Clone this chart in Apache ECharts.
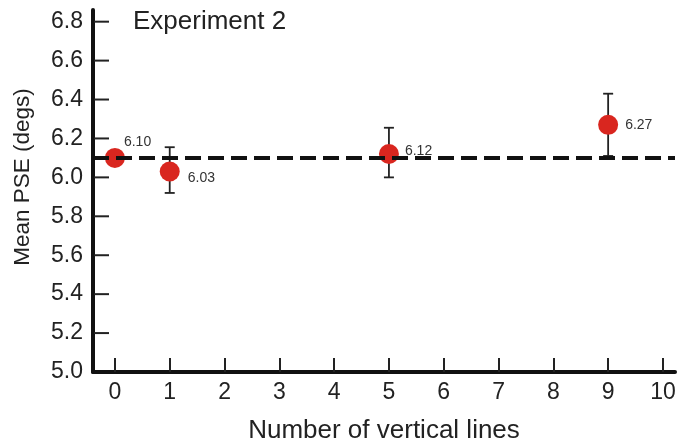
<!DOCTYPE html>
<html>
<head>
<meta charset="utf-8">
<script src="https://cdn.jsdelivr.net/npm/echarts@6/dist/echarts.min.js"></script>
<style>html,body{margin:0;padding:0;background:#fff;}#c{width:681px;height:445px;}</style>
</head>
<body>
<div id="c"></div>
<script>
// ---- data ----
const xValues = [0, 1, 5, 9];
const meanPSE = [6.10, 6.03, 6.12, 6.27];
const errLow = [null, 5.92, 6.00, 6.11];
const errHigh = [null, 6.155, 6.255, 6.43];
const referencePSE = 6.10;
const xTickValues = [0, 1, 2, 3, 4, 5, 6, 7, 8, 9, 10];
const yTickValues = [5.2, 5.4, 5.6, 5.8, 6.0, 6.2, 6.4, 6.6, 6.8];
const yLabelValues = [5.0, 5.2, 5.4, 5.6, 5.8, 6.0, 6.2, 6.4, 6.6, 6.8];
const titleText = 'Experiment 2';
const xName = 'Number of vertical lines';
const yName = 'Mean PSE (degs)';

// ---- layout ----
const X_MIN = -0.4, X_MAX = 10.22, Y_MIN = 5.0, Y_MAX = 6.86;
const labelOffsets = [[-8, -16], [1, 7], [-1, -3], [0, 0]];

const FONT = '"Liberation Sans", Arial, Helvetica, sans-serif';
const chart = echarts.init(document.getElementById('c'), null, {renderer: 'canvas'});

const pointData = xValues.map((x, i) => ({
  value: [x, meanPSE[i]],
  label: {offset: labelOffsets[i]}
}));
const errData = xValues.map((x, i) => [x, errLow[i], errHigh[i]]).filter(d => d[1] != null);
const yTickData = yTickValues.map(v => [X_MIN, v]);

chart.setOption({
  animation: false,
  backgroundColor: '#ffffff',
  title: {
    text: titleText, left: 128, top: 4,
    textStyle: {fontFamily: FONT, fontSize: 26, fontWeight: 'normal', color: '#222'}
  },
  grid: {left: 93, right: 6, top: 10, bottom: 73, containLabel: false, outerBoundsMode: 'none'},
  xAxis: {
    type: 'value', min: X_MIN, max: X_MAX,
    name: xName, nameLocation: 'middle', nameGap: 46,
    nameTextStyle: {fontFamily: FONT, fontSize: 26, color: '#222'},
    axisLine: {show: true, onZero: false, lineStyle: {color: '#111', width: 4}},
    axisTick: {show: true, inside: true, length: 14, customValues: xTickValues, lineStyle: {color: '#222', width: 2}},
    axisLabel: {show: true, customValues: xTickValues, fontFamily: FONT, fontSize: 23, color: '#222', margin: 9},
    splitLine: {show: false}
  },
  yAxis: {
    type: 'value', min: Y_MIN, max: Y_MAX,
    name: yName, nameLocation: 'middle', nameGap: 59,
    nameTextStyle: {fontFamily: FONT, fontSize: 22.5, color: '#222', padding: [0, 0, 0, 28]},
    axisLine: {show: true, onZero: false, lineStyle: {color: '#111', width: 4}},
    axisTick: {show: false},
    axisLabel: {show: true, customValues: yLabelValues, fontFamily: FONT, fontSize: 23, color: '#222', margin: 10,
      formatter: v => Number(v).toFixed(1)},
    splitLine: {show: false}
  },
  series: [
    {
      type: 'line', data: [], silent: true,
      markLine: {
        silent: true, symbol: ['none', 'none'], label: {show: false},
        lineStyle: {color: '#111', width: 4, type: [16, 7]},
        data: [{yAxis: referencePSE}]
      },
      z: 1
    },
    {
      // inward y-axis tick marks
      type: 'custom', z: 1, silent: true,
      renderItem: function (params, api) {
        const p = api.coord([api.value(0), api.value(1)]);
        return {type: 'line', shape: {x1: p[0] + 1, y1: p[1], x2: p[0] + 16, y2: p[1]},
          style: {stroke: '#222', lineWidth: 2}};
      },
      encode: {x: 0, y: 1},
      data: yTickData
    },
    {
      type: 'custom', z: 2,
      renderItem: function (params, api) {
        const x = api.value(0);
        const lo = api.coord([x, api.value(1)]);
        const hi = api.coord([x, api.value(2)]);
        const w = 5;
        const st = {stroke: '#222', lineWidth: 1.8};
        return {
          type: 'group',
          children: [
            {type: 'line', shape: {x1: lo[0], y1: lo[1], x2: hi[0], y2: hi[1]}, style: st},
            {type: 'line', shape: {x1: lo[0] - w, y1: lo[1], x2: lo[0] + w, y2: lo[1]}, style: st},
            {type: 'line', shape: {x1: hi[0] - w, y1: hi[1], x2: hi[0] + w, y2: hi[1]}, style: st}
          ]
        };
      },
      encode: {x: 0, y: [1, 2]},
      data: errData
    },
    {
      type: 'scatter', z: 3,
      symbol: 'circle', symbolSize: 20,
      itemStyle: {color: '#d9261f', opacity: 1},
      label: {
        show: true, position: 'right', distance: 7,
        fontFamily: FONT, fontSize: 14, color: '#333',
        formatter: p => p.value[1].toFixed(2)
      },
      data: pointData
    }
  ]
});
</script>
</body>
</html>
